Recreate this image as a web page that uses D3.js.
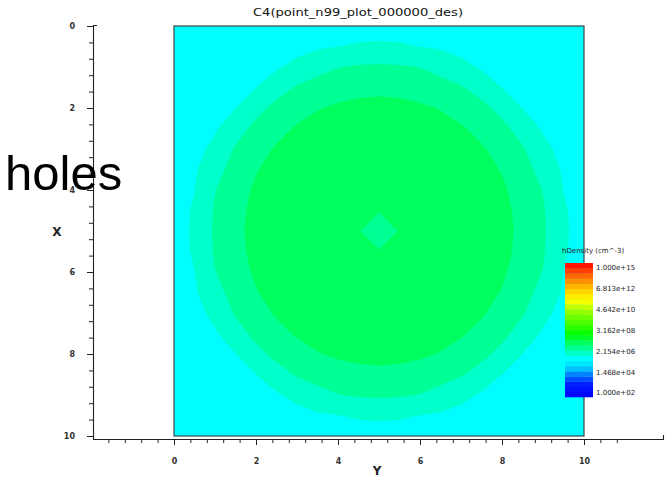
<!DOCTYPE html>
<html>
<head>
<meta charset="utf-8">
<script src="https://cdn.jsdelivr.net/npm/d3@7"></script>
<style>
body { margin: 0; background: #fff; }
text { font-family: "DejaVu Sans", sans-serif; }
</style>
</head>
<body>
<script>
const W = 666, H = 477;

const chartTitle = 'C4(point_n99_plot_000000_des)';
const overlayWord = 'holes';
const legendTitle = 'hDensity (cm^-3)';
const legendLabels = ['1.000e+15', '6.813e+12', '4.642e+10', '3.162e+08', '2.154e+06', '1.468e+04', '1.000e+02'];
const legendValues = [1e15, 6.813e12, 4.642e10, 3.162e8, 2.154e6, 1.468e4, 1e2];
const majorTicks = [0, 2, 4, 6, 8, 10];
const gridStep = 0.5;

// log10(hDensity), rows = X from 0 to 10, columns = Y from 0 to 10, every 0.5
const logDensity = [
  [5.58,5.61,5.64,5.67,5.70,5.73,5.75,5.77,5.79,5.80,5.80,5.80,5.79,5.77,5.75,5.73,5.70,5.67,5.64,5.61,5.58],
  [5.61,5.64,5.68,5.72,5.75,5.78,5.84,5.93,5.99,6.05,6.07,6.05,5.99,5.93,5.84,5.78,5.75,5.72,5.68,5.64,5.61],
  [5.64,5.68,5.72,5.76,5.80,5.94,6.13,6.33,6.48,6.54,6.56,6.54,6.48,6.33,6.13,5.94,5.80,5.76,5.72,5.68,5.64],
  [5.67,5.72,5.76,5.82,5.99,6.30,6.54,6.68,6.79,6.85,6.88,6.85,6.79,6.68,6.54,6.30,5.99,5.82,5.76,5.72,5.67],
  [5.70,5.75,5.80,5.99,6.36,6.62,6.81,6.97,7.07,7.13,7.15,7.13,7.07,6.97,6.81,6.62,6.36,5.99,5.80,5.75,5.70],
  [5.73,5.78,5.94,6.30,6.62,6.85,7.05,7.17,7.21,7.24,7.25,7.24,7.21,7.17,7.05,6.85,6.62,6.30,5.94,5.78,5.73],
  [5.75,5.84,6.13,6.54,6.81,7.05,7.18,7.25,7.28,7.29,7.30,7.29,7.28,7.25,7.18,7.05,6.81,6.54,6.13,5.84,5.75],
  [5.77,5.93,6.33,6.68,6.97,7.17,7.25,7.29,7.30,7.30,7.30,7.30,7.30,7.29,7.25,7.17,6.97,6.68,6.33,5.93,5.77],
  [5.79,5.99,6.48,6.79,7.07,7.21,7.28,7.30,7.30,7.30,7.30,7.30,7.30,7.30,7.28,7.21,7.07,6.79,6.48,5.99,5.79],
  [5.80,6.05,6.54,6.85,7.13,7.24,7.29,7.30,7.30,7.14,7.02,7.14,7.30,7.30,7.29,7.24,7.13,6.85,6.54,6.05,5.80],
  [5.80,6.07,6.56,6.88,7.15,7.25,7.30,7.30,7.30,7.02,6.78,7.02,7.30,7.30,7.30,7.25,7.15,6.88,6.56,6.07,5.80],
  [5.80,6.05,6.54,6.85,7.13,7.24,7.29,7.30,7.30,7.14,7.02,7.14,7.30,7.30,7.29,7.24,7.13,6.85,6.54,6.05,5.80],
  [5.79,5.99,6.48,6.79,7.07,7.21,7.28,7.30,7.30,7.30,7.30,7.30,7.30,7.30,7.28,7.21,7.07,6.79,6.48,5.99,5.79],
  [5.77,5.93,6.33,6.68,6.97,7.17,7.25,7.29,7.30,7.30,7.30,7.30,7.30,7.29,7.25,7.17,6.97,6.68,6.33,5.93,5.77],
  [5.75,5.84,6.13,6.54,6.81,7.05,7.18,7.25,7.28,7.29,7.30,7.29,7.28,7.25,7.18,7.05,6.81,6.54,6.13,5.84,5.75],
  [5.73,5.78,5.94,6.30,6.62,6.85,7.05,7.17,7.21,7.24,7.25,7.24,7.21,7.17,7.05,6.85,6.62,6.30,5.94,5.78,5.73],
  [5.70,5.75,5.80,5.99,6.36,6.62,6.81,6.97,7.07,7.13,7.15,7.13,7.07,6.97,6.81,6.62,6.36,5.99,5.80,5.75,5.70],
  [5.67,5.72,5.76,5.82,5.99,6.30,6.54,6.68,6.79,6.85,6.88,6.85,6.79,6.68,6.54,6.30,5.99,5.82,5.76,5.72,5.67],
  [5.64,5.68,5.72,5.76,5.80,5.94,6.13,6.33,6.48,6.54,6.56,6.54,6.48,6.33,6.13,5.94,5.80,5.76,5.72,5.68,5.64],
  [5.61,5.64,5.68,5.72,5.75,5.78,5.84,5.93,5.99,6.05,6.07,6.05,5.99,5.93,5.84,5.78,5.75,5.72,5.68,5.64,5.61],
  [5.58,5.61,5.64,5.67,5.70,5.73,5.75,5.77,5.79,5.80,5.80,5.80,5.79,5.77,5.75,5.73,5.70,5.67,5.64,5.61,5.58]
];

// rainbow colour table, position 0 = 1e2, 1 = 1e15
const cmapPos = [0, 0.10, 0.17, 0.23, 0.29, 0.47, 0.62, 0.72, 0.80, 0.88, 1];
const cmapCol = ['#0000ff', '#0020ff', '#0080ff', '#00ddff', '#00ffff', '#00ff00', '#80ff00', '#ffff00', '#ffd000', '#ff8000', '#ff0000'];
const logMin = 2, logMax = 15, band = 0.5;

const color = d3.scaleLinear()
  .domain(cmapPos.map(p => logMin + p * (logMax - logMin)))
  .range(cmapCol)
  .clamp(true);

const svg = d3.select('body').append('svg')
  .attr('width', W)
  .attr('height', H);

// horizontal = Y, vertical = X
const xs = d3.scaleLinear().domain([0, 10]).range([174, 584]);
const ys = d3.scaleLinear().domain([0, 10]).range([26, 436]);

svg.append('defs').append('clipPath').attr('id', 'plotclip')
  .append('rect')
  .attr('x', xs(0)).attr('y', ys(0))
  .attr('width', xs(10) - xs(0)).attr('height', ys(10) - ys(0));

// filled contour bands
const nRows = logDensity.length, nCols = logDensity[0].length;
const values = logDensity.flat();
const lo = Math.floor(d3.min(values) / band) * band;
const thresholds = d3.range(lo, logMax, band);
const bands = d3.contours().size([nCols, nRows]).thresholds(thresholds)(values);

const proj = d3.geoTransform({
  point: function(x, y) {
    this.stream.point(xs((x - 0.5) * gridStep), ys((y - 0.5) * gridStep));
  }
});
const path = d3.geoPath(proj);

svg.append('g').attr('clip-path', 'url(#plotclip)')
  .selectAll('path')
  .data(bands)
  .enter()
  .append('path')
  .attr('d', path)
  .attr('fill', d => color(d.value + band / 2))
  .attr('stroke', d => color(d.value + band / 2))
  .attr('stroke-width', 0.6);

svg.append('rect')
  .attr('x', xs(0)).attr('y', ys(0))
  .attr('width', xs(10) - xs(0)).attr('height', ys(10) - ys(0))
  .attr('fill', 'none')
  .attr('stroke', '#3a4848')
  .attr('stroke-width', 1.2);

// axes
const axisColor = '#222';
const minorLeft = d3.range(0, 10.01, 0.4).map(v => Math.round(v * 10) / 10)
  .filter(v => majorTicks.indexOf(v) < 0);
const minorBottom = d3.range(-1.6, 11, 0.4).map(v => Math.round(v * 10) / 10)
  .filter(v => majorTicks.indexOf(v) < 0);

const leftMinor = svg.append('g').attr('transform', 'translate(93,0)')
  .call(d3.axisLeft(ys).tickValues(minorLeft).tickSize(4).tickFormat(''));
const leftMajor = svg.append('g').attr('transform', 'translate(93,0)')
  .call(d3.axisLeft(ys).tickValues(majorTicks).tickSize(6).tickPadding(12));
const botMinor = svg.append('g').attr('transform', 'translate(0,439)')
  .call(d3.axisBottom(xs).tickValues(minorBottom).tickSize(4).tickFormat(''));
const botMajor = svg.append('g').attr('transform', 'translate(0,439)')
  .call(d3.axisBottom(xs).tickValues(majorTicks).tickSize(6).tickPadding(13));

[leftMinor, leftMajor, botMinor, botMajor].forEach(g => {
  g.select('.domain').remove();
  g.selectAll('line').attr('stroke', axisColor);
  g.selectAll('text')
    .attr('fill', '#333')
    .style('font-size', '8px')
    .style('font-weight', 'bold')
    .style('font-family', '"DejaVu Sans", sans-serif');
});

svg.append('path')
  .attr('d', 'M97,25.5H93.5V439.5H663.5V435')
  .attr('fill', 'none')
  .attr('stroke', axisColor)
  .attr('stroke-width', 1.1);

svg.append('text')
  .attr('x', 57).attr('y', 236)
  .attr('text-anchor', 'middle')
  .style('font-size', '12px').style('font-weight', 'bold')
  .attr('fill', '#222')
  .text('X');

svg.append('text')
  .attr('x', 377).attr('y', 475)
  .attr('text-anchor', 'middle')
  .style('font-size', '12px').style('font-weight', 'bold')
  .attr('fill', '#222')
  .text('Y');

svg.append('text')
  .attr('x', 358).attr('y', 16)
  .attr('text-anchor', 'middle')
  .attr('textLength', 210).attr('lengthAdjust', 'spacingAndGlyphs')
  .style('font-size', '11px')
  .attr('fill', '#111')
  .text(chartTitle);

// colour bar legend
const cb = d3.scaleLinear().domain([logMin, logMax]).range([397, 263]);
svg.append('g').selectAll('rect')
  .data(d3.range(logMin, logMax, band))
  .enter()
  .append('rect')
  .attr('x', 565)
  .attr('y', d => cb(d + band))
  .attr('width', 28)
  .attr('height', d => cb(d) - cb(d + band) + 0.3)
  .attr('fill', d => color(d + band / 2));

const lab = d3.scaleLog().domain([1e2, 1e15]).range([393, 268]);
svg.append('g').selectAll('text')
  .data(legendValues)
  .enter()
  .append('text')
  .attr('x', 596)
  .attr('y', d => lab(d))
  .attr('dy', '0.35em')
  .style('font-size', '7px')
  .attr('fill', '#222')
  .text((d, i) => legendLabels[i]);

svg.append('text')
  .attr('x', 562).attr('y', 253)
  .style('font-size', '7px')
  .attr('fill', '#222')
  .text(legendTitle);

svg.append('text')
  .attr('x', 5).attr('y', 190)
  .style('font-family', '"Liberation Sans", Arial, sans-serif')
  .style('font-size', '49px')
  .attr('fill', '#000')
  .text(overlayWord);
</script>
</body>
</html>
